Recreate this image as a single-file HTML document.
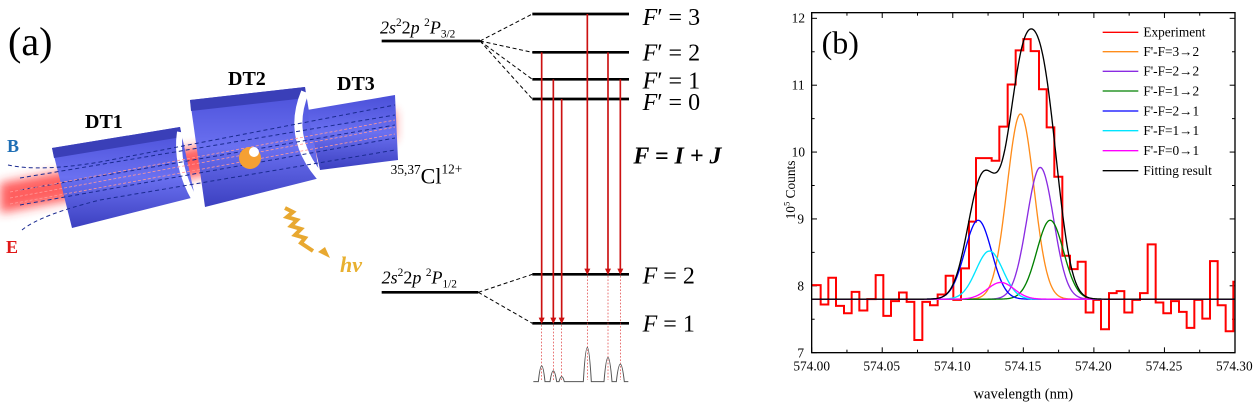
<!DOCTYPE html>
<html><head><meta charset="utf-8"><style>
html,body{margin:0;padding:0;background:#fff;}
svg{display:block;font-family:"Liberation Serif",serif;}
</style></head><body>
<svg id="s" width="1258" height="406" viewBox="0 0 1258 406" xmlns="http://www.w3.org/2000/svg">
<defs>
<filter id="bl" x="-20%" y="-50%" width="140%" height="200%"><feGaussianBlur stdDeviation="5"/></filter>
<linearGradient id="tb" x1="0" y1="0" x2="0" y2="1"><stop offset="0" stop-color="#4a4fd8"/><stop offset="0.5" stop-color="#6a70f0"/><stop offset="1" stop-color="#3c40c0"/></linearGradient>
</defs>
<text x="8" y="55" font-size="40">(a)</text>
<polygon points="0,183 395,110 395,140 0,213" fill="#ff2a2a" opacity="0.75" filter="url(#bl)"/>
<polygon points="52,148 180,127 195,197 72,228" fill="url(#tb)"/>
<polygon points="52,148 180,127 182,137 54,158" fill="#3a3fb8"/>
<polygon points="190,100 305,87 320,178 205,207" fill="url(#tb)"/>
<polygon points="190,100 305,87 306,98 191,111" fill="#3a3fb8"/>
<polygon points="307,110 395,95 398,160 320,170" fill="url(#tb)"/>
<path d="M305,92 Q285,140 325,182" stroke="#fff" stroke-width="8" fill="none"/>
<path d="M180,132 Q175,165 195,200" stroke="#fff" stroke-width="6" fill="none"/>
<g stroke="#1a2a90" stroke-width="1" stroke-dasharray="4,3" fill="none">
<path d="M8,165 Q40,172 100,162 L395,105"/><path d="M20,178 L395,115"/><path d="M20,190 L395,125"/><path d="M20,205 L395,138"/><path d="M22,230 Q40,215 100,200 L395,150"/>
</g>
<g stroke="#ff9999" stroke-width="0.8" stroke-dasharray="3,2" fill="none">
<path d="M10,192 L395,120"/><path d="M10,198 L395,127"/><path d="M10,204 L395,134"/>
</g>
<circle cx="250" cy="158" r="11" fill="#f5a033"/><circle cx="254" cy="152" r="5" fill="#fff"/>
<text x="85" y="128" font-size="20" font-weight="bold">DT1</text>
<text x="228" y="85" font-size="20" font-weight="bold">DT2</text>
<text x="337" y="90" font-size="20" font-weight="bold">DT3</text>
<text x="7" y="152" font-size="18" font-weight="bold" fill="#1f6fb5">B</text>
<text x="6" y="253" font-size="18" font-weight="bold" fill="#e01818">E</text>
<path d="M285,208 l8,4 -6,5 10,3 -6,6 10,3 -6,6 10,3 -4,5 12,8" stroke="#e8a830" stroke-width="4" fill="none"/>
<polygon points="330,258 318,252 325,247" fill="#e8a830"/>
<text x="340" y="272" font-size="22" font-weight="bold" font-style="italic" fill="#e8b030">hν</text>
<g transform="translate(370,0) scale(0.33333)">
<text x="30" y="100" font-size="54" font-style="italic">2s<tspan font-style="normal" font-size="34" dy="-22">2</tspan><tspan dy="22" font-style="normal">2</tspan>p <tspan font-style="normal" font-size="34" dy="-22">2</tspan><tspan dy="22">P</tspan><tspan font-style="normal" font-size="34" dy="12">3/2</tspan></text>
<text x="35" y="850" font-size="54" font-style="italic">2s<tspan font-style="normal" font-size="34" dy="-22">2</tspan><tspan dy="22" font-style="normal">2</tspan>p <tspan font-style="normal" font-size="34" dy="-22">2</tspan><tspan dy="22">P</tspan><tspan font-style="normal" font-size="34" dy="12">1/2</tspan></text>
<text x="62" y="550" font-size="40"><tspan dy="-28">35,37</tspan><tspan font-size="66" dy="28">Cl</tspan><tspan font-size="40" dy="-30">12+</tspan></text>
<g stroke="#000" stroke-width="8">
<line x1="35" y1="123" x2="330" y2="123"/><line x1="35" y1="877" x2="325" y2="877"/>
<line x1="487" y1="42" x2="777" y2="42"/><line x1="487" y1="157" x2="777" y2="157"/><line x1="487" y1="238" x2="777" y2="238"/><line x1="487" y1="297" x2="777" y2="297"/><line x1="487" y1="823" x2="777" y2="823"/><line x1="487" y1="970" x2="777" y2="970"/>
</g>
<g stroke="#000" stroke-width="3" stroke-dasharray="12,8">
<line x1="330" y1="123" x2="487" y2="42"/><line x1="330" y1="123" x2="487" y2="157"/><line x1="330" y1="123" x2="487" y2="238"/><line x1="330" y1="123" x2="487" y2="297"/><line x1="325" y1="877" x2="487" y2="823"/><line x1="325" y1="877" x2="487" y2="970"/>
</g>
<g stroke="#cc1111" stroke-width="5">
<line x1="515" y1="157" x2="515" y2="955"/><line x1="550" y1="238" x2="550" y2="955"/><line x1="575" y1="297" x2="575" y2="955"/><line x1="652" y1="42" x2="652" y2="808"/><line x1="714" y1="157" x2="714" y2="808"/><line x1="751" y1="238" x2="751" y2="808"/>
</g>
<g fill="#cc1111">
<polygon points="506,953 524,953 515,972"/><polygon points="541,953 559,953 550,972"/><polygon points="566,953 584,953 575,972"/><polygon points="643,806 661,806 652,825"/><polygon points="705,806 723,806 714,825"/><polygon points="742,806 760,806 751,825"/>
</g>
<g stroke="#dd3333" stroke-width="2" stroke-dasharray="5,5">
<line x1="515" y1="975" x2="515" y2="1140"/><line x1="550" y1="975" x2="550" y2="1140"/><line x1="575" y1="975" x2="575" y2="1140"/><line x1="652" y1="828" x2="652" y2="1140"/><line x1="714" y1="828" x2="714" y2="1140"/><line x1="751" y1="828" x2="751" y2="1140"/>
</g>
<path d="M490,1145 L505,1145 Q515,1050 525,1145 L540,1145 Q550,1080 560,1145 L567,1145 Q575,1115 583,1145 L640,1145 Q652,940 664,1145 L702,1145 Q714,1000 726,1145 L739,1145 Q751,1040 763,1145 L775,1145" stroke="#555" stroke-width="3" fill="none"/>
<g font-size="72">
<text x="818" y="75"><tspan font-style="italic">F</tspan>′ = 3</text>
<text x="818" y="182"><tspan font-style="italic">F</tspan>′ = 2</text>
<text x="818" y="265"><tspan font-style="italic">F</tspan>′ = 1</text>
<text x="818" y="330"><tspan font-style="italic">F</tspan>′ = 0</text>
<text x="818" y="850"><tspan font-style="italic">F</tspan> = 2</text>
<text x="818" y="995"><tspan font-style="italic">F</tspan> = 1</text>
<text x="790" y="490" font-weight="bold" font-style="italic">F = I + J</text>
</g>
</g>
<g transform="translate(780,0) scale(0.33333)">
<g id="ticks" stroke="#000" stroke-width="3"></g>
<path id="exp" fill="none" stroke="#ff0000" stroke-width="6"/>
<g id="gs" fill="none" stroke-width="4"></g>
<rect x="95" y="38" width="1270" height="1020" fill="none" stroke="#000" stroke-width="4"/>
<text x="125" y="160" font-size="96">(b)</text>
<g font-size="40">
<text x="40" y="1112">574.00</text><text x="250" y="1112">574.05</text><text x="462" y="1112">574.10</text><text x="674" y="1112">574.15</text><text x="885" y="1112">574.20</text><text x="1097" y="1112">574.25</text><text x="1308" y="1112">574.30</text>
<text x="35" y="68">12</text><text x="35" y="269">11</text><text x="35" y="470">10</text><text x="52" y="670">9</text><text x="52" y="871">8</text><text x="52" y="1072">7</text>
<text x="730" y="1195" font-size="44" text-anchor="middle">wavelength (nm)</text>
<text transform="translate(45,570) rotate(-90)" text-anchor="middle" font-size="40">10<tspan font-size="26" dy="-16">5</tspan><tspan dy="16"> Counts</tspan></text>
</g>
<g stroke-width="4">
<line x1="968" y1="97" x2="1075" y2="97" stroke="#ff0000"/><line x1="968" y1="155" x2="1075" y2="155" stroke="#ff8c1a"/><line x1="968" y1="214" x2="1075" y2="214" stroke="#8a2be2"/><line x1="968" y1="273" x2="1075" y2="273" stroke="#008000"/><line x1="968" y1="333" x2="1075" y2="333" stroke="#0000ff"/><line x1="968" y1="392" x2="1075" y2="392" stroke="#00e5ff"/><line x1="968" y1="452" x2="1075" y2="452" stroke="#ff00ff"/><line x1="968" y1="512" x2="1075" y2="512" stroke="#000"/>
</g>
<g font-size="40">
<text x="1090" y="110">Experiment</text><text x="1090" y="168">F'-F=3→2</text><text x="1090" y="227">F'-F=2→2</text><text x="1090" y="286">F'-F=1→2</text><text x="1090" y="346">F'-F=2→1</text><text x="1090" y="405">F'-F=1→1</text><text x="1090" y="465">F'-F=0→1</text><text x="1090" y="525">Fitting result</text>
</g>
</g>
</svg>
<script>
(function(){
var X=function(l){return 95+(l-574)*1270/0.3;},Y=function(v){return 1058-(v-7)*200.6;};
var vals=[8.01,7.72,8.12,7.70,7.59,7.91,7.63,7.80,8.16,7.55,7.77,7.90,7.76,7.19,7.76,7.71,7.87,8.15,7.79,8.26,8.96,9.91,9.91,9.87,10.38,11.01,11.52,11.69,11.51,10.94,10.37,9.63,8.45,8.25,8.36,7.60,7.79,7.35,7.89,7.92,7.60,7.79,7.89,8.62,7.75,7.59,7.77,7.61,7.37,7.79,7.51,8.37,7.71,7.32,8.06];
var xs=[95,122,145,168,192,215,238,262,287,310,333,357,380,403,427,450,473,497,520,543,567,588,612,635,658,683,707,730,752,777,800,823,847,870,893,917,940,963,987,1010,1033,1057,1080,1103,1127,1150,1173,1197,1220,1243,1267,1290,1313,1337,1360,1365];
var d="";for(var i=0;i<vals.length;i++){var y=Y(vals[i]).toFixed(1);d+=(i?"L":"M")+xs[i]+","+y+"L"+xs[i+1]+","+y;}
document.getElementById("exp").setAttribute("d",d);
var comps=[[574.148,2.77,"#ff8c1a"],[574.162,1.97,"#8a2be2"],[574.169,1.18,"#008000"],[574.118,1.18,"#0000ff"],[574.126,0.72,"#00e5ff"],[574.134,0.25,"#ff00ff"]];
var s=0.0095,ns="http://www.w3.org/2000/svg",g=document.getElementById("gs");
function mk(f,c){var p="";for(var l=574;l<=574.3001;l+=0.0005){p+=(p?"L":"M")+X(l).toFixed(1)+","+Y(f(l)).toFixed(1);}var e=document.createElementNS(ns,"path");e.setAttribute("d",p);e.setAttribute("stroke",c);g.appendChild(e);}
comps.forEach(function(c){mk(function(l){return 7.8+c[1]*Math.exp(-Math.pow(l-c[0],2)/(2*s*s));},c[2]);});
mk(function(l){var v=7.8;comps.forEach(function(c){v+=c[1]*Math.exp(-Math.pow(l-c[0],2)/(2*s*s));});return v;},"#000");
var t=document.getElementById("ticks");
function ln(a,b,c,e){var q=document.createElementNS(ns,"line");q.setAttribute("x1",a);q.setAttribute("y1",b);q.setAttribute("x2",c);q.setAttribute("y2",e);t.appendChild(q);}
for(var k=0;k<=12;k++){var x=X(574+k*0.025),L=k%2?9:16;ln(x,1058,x,1058-L);ln(x,38,x,38+L);}
for(var k=0;k<=10;k++){var y=Y(7+k*0.5),L=k%2?9:16;ln(95,y,95+L,y);ln(1365,y,1365-L,y);}
})();
</script>
</body></html>
